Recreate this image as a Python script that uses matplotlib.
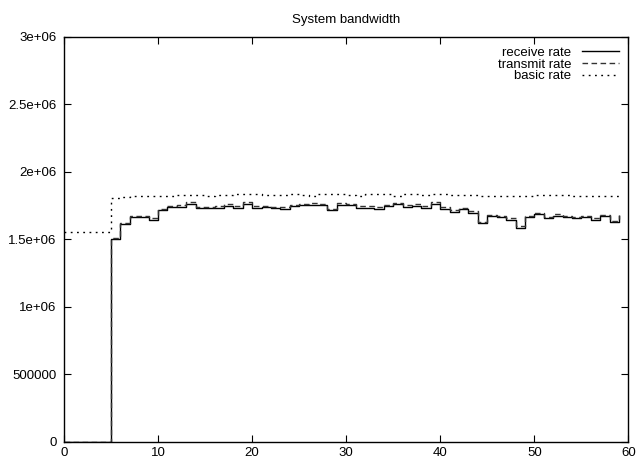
"""Step plot of the system bandwidth over time, gnuplot style."""

import matplotlib

matplotlib.use("Agg")
import matplotlib.pyplot as plt

plt.rcParams["font.family"] = ["Liberation Sans", "DejaVu Sans"]

seconds = list(range(60))

receive_rate = [
    0, 0, 0, 0, 0,
    1.500e6, 1.610e6, 1.665e6, 1.665e6, 1.645e6,
    1.715e6, 1.740e6, 1.740e6, 1.765e6, 1.730e6,
    1.730e6, 1.735e6, 1.750e6, 1.735e6, 1.765e6,
    1.735e6, 1.737e6, 1.730e6, 1.725e6, 1.745e6,
    1.755e6, 1.755e6, 1.755e6, 1.715e6, 1.755e6,
    1.755e6, 1.735e6, 1.735e6, 1.725e6, 1.745e6,
    1.760e6, 1.740e6, 1.750e6, 1.735e6, 1.765e6,
    1.725e6, 1.705e6, 1.725e6, 1.695e6, 1.620e6,
    1.670e6, 1.665e6, 1.645e6, 1.585e6, 1.665e6,
    1.685e6, 1.655e6, 1.675e6, 1.665e6, 1.655e6,
    1.665e6, 1.645e6, 1.670e6, 1.625e6, 1.670e6,
]

transmit_rate = [
    0, 0, 0, 0, 0,
    1.512e6, 1.622e6, 1.675e6, 1.676e6, 1.655e6,
    1.726e6, 1.750e6, 1.752e6, 1.774e6, 1.742e6,
    1.741e6, 1.746e6, 1.760e6, 1.746e6, 1.774e6,
    1.746e6, 1.748e6, 1.741e6, 1.736e6, 1.755e6,
    1.765e6, 1.766e6, 1.765e6, 1.726e6, 1.766e6,
    1.765e6, 1.746e6, 1.745e6, 1.736e6, 1.756e6,
    1.770e6, 1.751e6, 1.760e6, 1.746e6, 1.775e6,
    1.736e6, 1.716e6, 1.735e6, 1.706e6, 1.631e6,
    1.680e6, 1.676e6, 1.656e6, 1.596e6, 1.676e6,
    1.695e6, 1.666e6, 1.686e6, 1.676e6, 1.665e6,
    1.676e6, 1.656e6, 1.681e6, 1.636e6, 1.681e6,
]

basic_rate = [
    1.556e6, 1.556e6, 1.556e6, 1.556e6, 1.556e6,
    1.805e6, 1.812e6, 1.817e6, 1.817e6, 1.822e6,
    1.822e6, 1.822e6, 1.827e6, 1.827e6, 1.827e6,
    1.822e6, 1.827e6, 1.827e6, 1.832e6, 1.832e6,
    1.832e6, 1.827e6, 1.827e6, 1.827e6, 1.832e6,
    1.827e6, 1.822e6, 1.832e6, 1.832e6, 1.832e6,
    1.827e6, 1.822e6, 1.832e6, 1.832e6, 1.832e6,
    1.822e6, 1.832e6, 1.832e6, 1.827e6, 1.832e6,
    1.832e6, 1.827e6, 1.827e6, 1.827e6, 1.817e6,
    1.822e6, 1.822e6, 1.822e6, 1.822e6, 1.822e6,
    1.827e6, 1.827e6, 1.827e6, 1.827e6, 1.822e6,
    1.822e6, 1.822e6, 1.822e6, 1.822e6, 1.822e6,
]

x_ticks = [0, 10, 20, 30, 40, 50, 60]
y_ticks = [0, 500000, 1000000, 1500000, 2000000, 2500000, 3000000]
y_tick_labels = ["0", "500000", "1e+06", "1.5e+06", "2e+06", "2.5e+06", "3e+06"]


def plot_bandwidth() -> None:
    fig = plt.figure(figsize=(6.37, 4.61), dpi=100)
    ax = fig.add_axes([0.1005, 0.042, 0.886, 0.878])

    ax.step(seconds, receive_rate, where="post", color="black",
            linewidth=1.0, label="receive rate")
    ax.step(seconds, transmit_rate, where="post", color="#333333",
            linewidth=1.0, linestyle=(0, (4, 2.5)), label="transmit rate")
    ax.step(seconds, basic_rate, where="post", color="black",
            linewidth=1.0, linestyle=(0, (1.3, 3.2)), label="basic rate")

    ax.set_xlim(0, 60)
    ax.set_ylim(0, 3e6)
    ax.set_xticks(x_ticks)
    ax.set_yticks(y_ticks)
    ax.set_yticklabels(y_tick_labels)
    ax.tick_params(direction="in", length=4.8, width=0.8, labelsize=9.5,
                   top=True, right=True)
    ax.tick_params(axis="y", pad=5.5)
    ax.tick_params(axis="x", pad=4)
    for spine in ax.spines.values():
        spine.set_linewidth(1.0)

    ax.set_title("System bandwidth", fontsize=9.5, pad=10)
    ax.legend(loc="upper right", frameon=False, markerfirst=False,
              fontsize=9.5, handlelength=2.8, handletextpad=0.8,
              labelspacing=-0.05, borderaxespad=0.55, borderpad=0.2)

    fig.savefig("out.png", dpi=100)


def main() -> None:
    plot_bandwidth()


if __name__ == "__main__":
    main()
